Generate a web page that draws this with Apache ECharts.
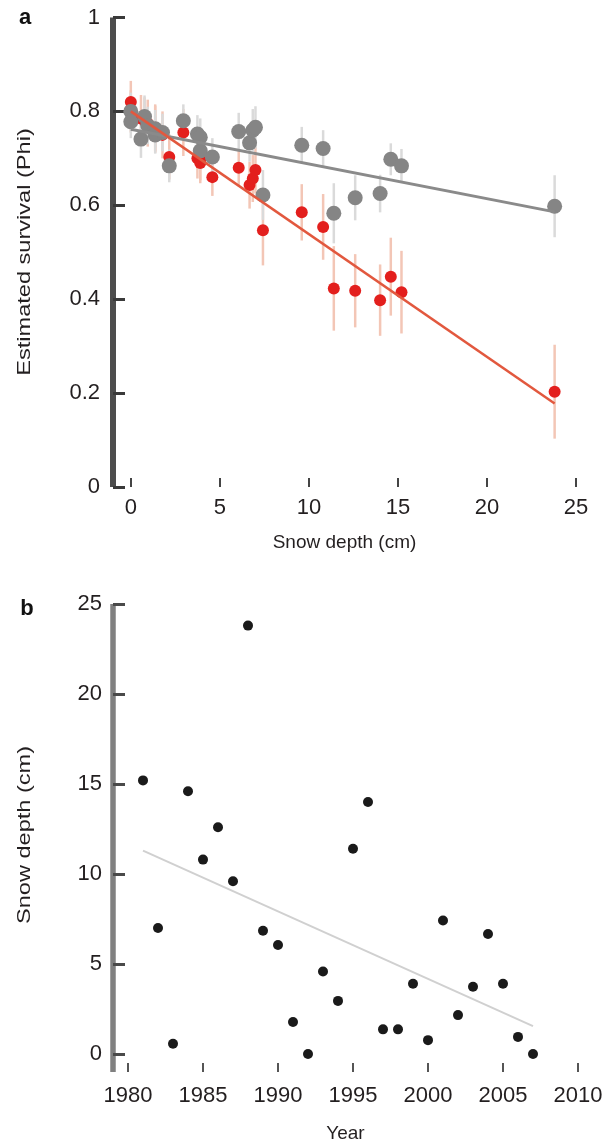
<!DOCTYPE html>
<html>
<head>
<meta charset="utf-8">
<script src="https://cdn.jsdelivr.net/npm/echarts@6/dist/echarts.min.js"></script>
<style>html,body{margin:0;padding:0;background:#fff}#c{width:607px;height:1144px}</style>
</head>
<body>
<div id="c"></div>
<script>
// ---- Panel a data: snow depth (cm) vs estimated survival (Phi)
const depthA = [0, 0, 0.57, 0.77, 0.95, 1.37, 1.37, 1.78, 2.16, 2.95, 3.74, 3.9, 3.9, 4.58, 6.06, 6.67, 6.85, 7.0, 7.42, 9.6, 10.8, 11.4, 12.6, 14.0, 14.6, 15.2, 23.8];
const grayPhi = [0.80, 0.778, 0.741, 0.789, 0.77, 0.763, 0.75, 0.755, 0.684, 0.78, 0.752, 0.716, 0.745, 0.703, 0.757, 0.733, 0.760, 0.766, 0.622, 0.728, 0.721, 0.583, 0.616, 0.625, 0.698, 0.684, 0.598];
const redPhi = [0.82, 0.80, 0.785, 0.78, 0.775, 0.765, 0.762, 0.75, 0.703, 0.755, 0.70, 0.696, 0.69, 0.66, 0.68, 0.643, 0.657, 0.675, 0.547, 0.585, 0.554, 0.423, 0.418, 0.398, 0.448, 0.415, 0.203];
const grayErr = [0.04, 0.035, 0.04, 0.045, 0.04, 0.04, 0.04, 0.04, 0.035, 0.035, 0.04, 0.04, 0.04, 0.04, 0.04, 0.04, 0.045, 0.045, 0.053, 0.039, 0.039, 0.064, 0.048, 0.04, 0.034, 0.036, 0.066];
const redErr = [0.045, 0.045, 0.05, 0.05, 0.05, 0.05, 0.05, 0.05, 0.048, 0.05, 0.043, 0.043, 0.043, 0.04, 0.04, 0.05, 0.05, 0.05, 0.075, 0.06, 0.07, 0.09, 0.078, 0.076, 0.083, 0.088, 0.1];
const grayFit = [[0, 0.762], [23.8, 0.586]];
const redFit = [[0, 0.80], [23.8, 0.178]];
const xTicksA = [0, 5, 10, 15, 20, 25];
const yTicksA = [0, 0.2, 0.4, 0.6, 0.8, 1];

// ---- Panel b data: year vs snow depth (cm)
const years = [1981, 1982, 1983, 1984, 1985, 1986, 1987, 1988, 1989, 1990, 1991, 1992, 1993, 1994, 1995, 1996, 1997, 1998, 1999, 2000, 2001, 2002, 2003, 2004, 2005, 2006, 2007];
const depthB = [15.2, 7.0, 0.57, 14.6, 10.8, 12.6, 9.6, 23.8, 6.85, 6.06, 1.78, 0, 4.58, 2.95, 11.4, 14.0, 1.37, 1.37, 3.9, 0.77, 7.42, 2.16, 3.74, 6.67, 3.9, 0.95, 0];
const trendB = [[1981, 11.3], [2007, 1.55]];
const xTicksB = [1980, 1985, 1990, 1995, 2000, 2005, 2010];
const yTicksB = [0, 5, 10, 15, 20, 25];

const FONT = '"Liberation Sans", Arial, sans-serif';
const TXT = '#231f20';
const FS = 22;

function errRender(color) {
  return function (params, api) {
    const p1 = api.coord([api.value(0), api.value(1)]);
    const p2 = api.coord([api.value(0), api.value(2)]);
    return {type: 'line', shape: {x1: p1[0], y1: p1[1], x2: p2[0], y2: p2[1]},
            style: {stroke: color, lineWidth: 2.5}};
  };
}

const chart = echarts.init(document.getElementById('c'), null, {renderer: 'canvas'});
chart.setOption({
  animation: false,
  backgroundColor: '#fff',
  grid: [
    {left: 113, top: 17.5, width: 463, height: 469.5},
    {left: 113, top: 604, width: 465, height: 469.5}
  ],
  xAxis: [
    {gridIndex: 0, type: 'value', min: -1, max: 25,
     name: 'Snow depth (cm)', nameLocation: 'middle', nameGap: 46,
     nameTextStyle: {fontFamily: FONT, fontSize: 19, color: TXT},
     axisLine: {show: false, onZero: false},
     axisTick: {show: true, inside: true, length: 9, customValues: xTicksA, lineStyle: {color: '#444', width: 2}},
     axisLabel: {customValues: xTicksA, margin: 10, fontFamily: FONT, fontSize: FS, color: TXT},
     splitLine: {show: false}},
    {gridIndex: 1, type: 'value', min: 1979, max: 2010,
     name: 'Year', nameLocation: 'middle', nameGap: 52,
     nameTextStyle: {fontFamily: FONT, fontSize: 19, color: TXT},
     axisLine: {show: false, onZero: false},
     axisTick: {show: true, inside: true, length: 9, customValues: xTicksB, lineStyle: {color: '#555', width: 2}},
     axisLabel: {customValues: xTicksB, margin: 13, fontFamily: FONT, fontSize: FS, color: TXT,
                 formatter: v => String(v)},
     splitLine: {show: false}}
  ],
  yAxis: [
    {gridIndex: 0, type: 'value', min: 0, max: 1, interval: 0.2,
     axisLine: {show: true, onZero: false, lineStyle: {color: '#4d4d4d', width: 6, cap: 'butt'}},
     axisTick: {show: true, inside: true, length: 12, lineStyle: {color: '#3a3a3a', width: 3}},
     axisLabel: {margin: 13, fontFamily: FONT, fontSize: FS, color: TXT},
     splitLine: {show: false}},
    {gridIndex: 1, type: 'value', min: -1, max: 25,
     axisLine: {show: true, onZero: false, lineStyle: {color: '#808080', width: 5.5, cap: 'butt'}},
     axisTick: {show: true, inside: true, length: 12, customValues: yTicksB, lineStyle: {color: '#4a4a4a', width: 3}},
     axisLabel: {customValues: yTicksB, margin: 11, fontFamily: FONT, fontSize: FS, color: TXT},
     splitLine: {show: false}}
  ],
  series: [
    {type: 'custom', xAxisIndex: 0, yAxisIndex: 0, z: 1, silent: true,
     renderItem: errRender('#f3c6b6'), encode: {x: 0, y: [1, 2]},
     data: depthA.map((d, i) => [d, redPhi[i] - redErr[i], redPhi[i] + redErr[i]])},
    {type: 'custom', xAxisIndex: 0, yAxisIndex: 0, z: 1, silent: true,
     renderItem: errRender('#dadada'), encode: {x: 0, y: [1, 2]},
     data: depthA.map((d, i) => [d, grayPhi[i] - grayErr[i], grayPhi[i] + grayErr[i]])},
    {type: 'scatter', xAxisIndex: 0, yAxisIndex: 0, z: 2, symbol: 'circle', symbolSize: 12,
     itemStyle: {color: '#e31f1d', opacity: 1},
     data: depthA.map((d, i) => [d, redPhi[i]])},
    {type: 'scatter', xAxisIndex: 0, yAxisIndex: 0, z: 3, symbol: 'circle', symbolSize: 15,
     itemStyle: {color: '#858585', opacity: 1},
     data: depthA.map((d, i) => [d, grayPhi[i]])},
    {type: 'line', xAxisIndex: 0, yAxisIndex: 0, z: 4, showSymbol: false,
     lineStyle: {color: '#8a8a8a', width: 3}, data: grayFit},
    {type: 'line', xAxisIndex: 0, yAxisIndex: 0, z: 5, showSymbol: false,
     lineStyle: {color: '#e2583e', width: 2.5}, data: redFit},
    {type: 'line', xAxisIndex: 1, yAxisIndex: 1, z: 2, showSymbol: false,
     lineStyle: {color: '#d0d0d0', width: 2}, data: trendB},
    {type: 'scatter', xAxisIndex: 1, yAxisIndex: 1, z: 3, symbol: 'circle', symbolSize: 10,
     itemStyle: {color: '#1a1a1a', opacity: 1},
     data: years.map((y, i) => [y, depthB[i]])}
  ],
  graphic: [
    {type: 'text', x: 25, y: 18, style: {text: 'a', font: 'bold 22px ' + FONT, fill: '#111', textAlign: 'center', textVerticalAlign: 'middle'}},
    {type: 'text', x: 27, y: 609, style: {text: 'b', font: 'bold 22px ' + FONT, fill: '#111', textAlign: 'center', textVerticalAlign: 'middle'}},
    {type: 'text', x: 25, y: 252, rotation: Math.PI / 2, scaleX: 1.24,
     style: {text: 'Estimated survival (Phi)', font: '19px ' + FONT, fill: TXT, textAlign: 'center', textVerticalAlign: 'middle'}},
    {type: 'text', x: 25, y: 835, rotation: Math.PI / 2, scaleX: 1.24,
     style: {text: 'Snow depth (cm)', font: '19px ' + FONT, fill: TXT, textAlign: 'center', textVerticalAlign: 'middle'}}
  ]
});
</script>
</body>
</html>
